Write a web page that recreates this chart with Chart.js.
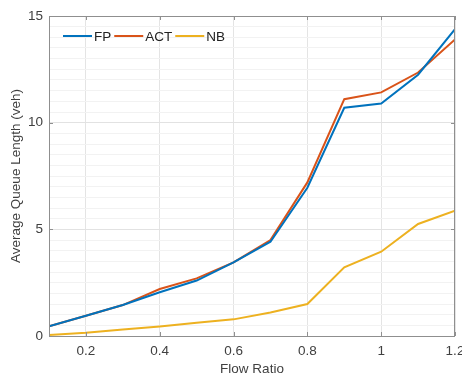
<!DOCTYPE html>
<html>
<head>
<meta charset="utf-8">
<script src="https://cdn.jsdelivr.net/npm/chart.js@4.4.1/dist/chart.umd.min.js"></script>
<style>
  html, body { margin: 0; padding: 0; background: #fff; }
  #wrap { width: 462px; height: 377px; }
</style>
</head>
<body>
<div id="wrap"><canvas id="chart" width="462" height="377"></canvas></div>
<script>
// flow ratio on x, average queue length on y
const flowRatio = [0.1, 0.2, 0.3, 0.4, 0.5, 0.6, 0.7, 0.8, 0.9, 1.0, 1.1, 1.2];
const fpQueue  = [0.45, 0.95, 1.45, 2.05, 2.6, 3.45, 4.42, 6.95, 10.7, 10.9, 12.25, 14.38];
const actQueue = [0.45, 0.95, 1.45, 2.2, 2.7, 3.45, 4.5, 7.2, 11.1, 11.42, 12.35, 13.9];
const nbQueue  = [0.05, 0.15, 0.3, 0.45, 0.62, 0.78, 1.1, 1.5, 3.22, 3.95, 5.25, 5.87];
const xTicks = [0.2, 0.4, 0.6, 0.8, 1.0, 1.2];
const yTicks = [0, 5, 10, 15];

const FONT = '"Liberation Sans", Arial, sans-serif';
const TEXT = '#404040';

function toPoints(ys) {
  return flowRatio.map((x, i) => ({ x, y: ys[i] }));
}

// box around the axes + legend in the top-left corner
const frame = {
  id: 'frame',
  afterDatasetsDraw(chart) {
    const { ctx, chartArea: a } = chart;
    ctx.save();
    ctx.strokeStyle = '#8f8f8f';
    ctx.lineWidth = 1;
    ctx.strokeRect(a.left + 0.5, a.top + 0.5, a.right - a.left - 1, a.bottom - a.top);

    // inward tick marks
    const xs = chart.scales.x, ys = chart.scales.y;
    ctx.beginPath();
    xTicks.forEach(v => {
      const px = Math.round(xs.getPixelForValue(v)) + 0.5;
      ctx.moveTo(px, a.bottom); ctx.lineTo(px, a.bottom - 4);
      ctx.moveTo(px, a.top); ctx.lineTo(px, a.top + 4);
    });
    yTicks.forEach(v => {
      const py = Math.round(ys.getPixelForValue(v)) + 0.5;
      ctx.moveTo(a.left, py); ctx.lineTo(a.left + 4, py);
      ctx.moveTo(a.right, py); ctx.lineTo(a.right - 4, py);
    });
    ctx.stroke();

    // legend
    ctx.font = '13.5px ' + FONT;
    ctx.textBaseline = 'middle';
    let x = a.left + 14;
    const y = a.top + 20;
    chart.data.datasets.forEach(ds => {
      ctx.strokeStyle = ds.borderColor;
      ctx.lineWidth = 2;
      ctx.beginPath();
      ctx.moveTo(x, y); ctx.lineTo(x + 29, y);
      ctx.stroke();
      ctx.fillStyle = '#222';
      ctx.fillText(ds.label, x + 31, y + 1);
      x += 31 + ctx.measureText(ds.label).width + 3;
    });
    ctx.restore();
  }
};

new Chart(document.getElementById('chart'), {
  type: 'line',
  data: {
    datasets: [
      { label: 'FP', data: toPoints(fpQueue), borderColor: '#0072BD' },
      { label: 'ACT', data: toPoints(actQueue), borderColor: '#D95319' },
      { label: 'NB', data: toPoints(nbQueue), borderColor: '#EDB120' }
    ]
  },
  options: {
    responsive: false,
    animation: false,
    layout: { padding: { top: 16, right: 7, left: 0, bottom: 0 } },
    elements: {
      line: { borderWidth: 2, tension: 0, fill: false },
      point: { radius: 0 }
    },
    plugins: {
      legend: { display: false },
      tooltip: { enabled: false }
    },
    scales: {
      x: {
        type: 'linear',
        min: 0.1,
        max: 1.2,
        afterBuildTicks: s => { s.ticks = xTicks.map(v => ({ value: v })); },
        afterFit: s => { s.height = 41; s.paddingLeft = 0; s.paddingRight = 0; },
        grid: { color: '#e4e4e4', drawTicks: false },
        border: { display: false },
        ticks: {
          color: TEXT,
          font: { family: FONT, size: 13.5 },
          padding: 7,
          maxRotation: 0,
          callback: v => String(Math.round(v * 10) / 10)
        },
        title: {
          display: true,
          text: 'Flow Ratio',
          color: TEXT,
          font: { family: FONT, size: 13.5 },
          padding: { top: 0, bottom: 0 }
        }
      },
      y: {
        min: 0,
        max: 15,
        afterBuildTicks: s => {
          const t = [];
          for (let v = 0; v <= 15; v += 0.5) t.push({ value: v });
          s.ticks = t;
        },
        afterFit: s => { s.width = 49; },
        grid: {
          drawTicks: false,
          color: c => (c.tick && c.tick.value % 5 === 0) ? '#e2e2e2' : '#f2f2f2'
        },
        border: { display: false },
        ticks: {
          color: TEXT,
          font: { family: FONT, size: 13.5 },
          padding: 6,
          autoSkip: false,
          callback: v => (v % 5 === 0 ? String(v) : '')
        },
        title: {
          display: true,
          text: 'Average Queue Length (veh)',
          color: TEXT,
          font: { family: FONT, size: 13.5 },
          padding: { top: 8, bottom: 0 }
        }
      }
    }
  },
  plugins: [frame]
});
</script>
</body>
</html>
